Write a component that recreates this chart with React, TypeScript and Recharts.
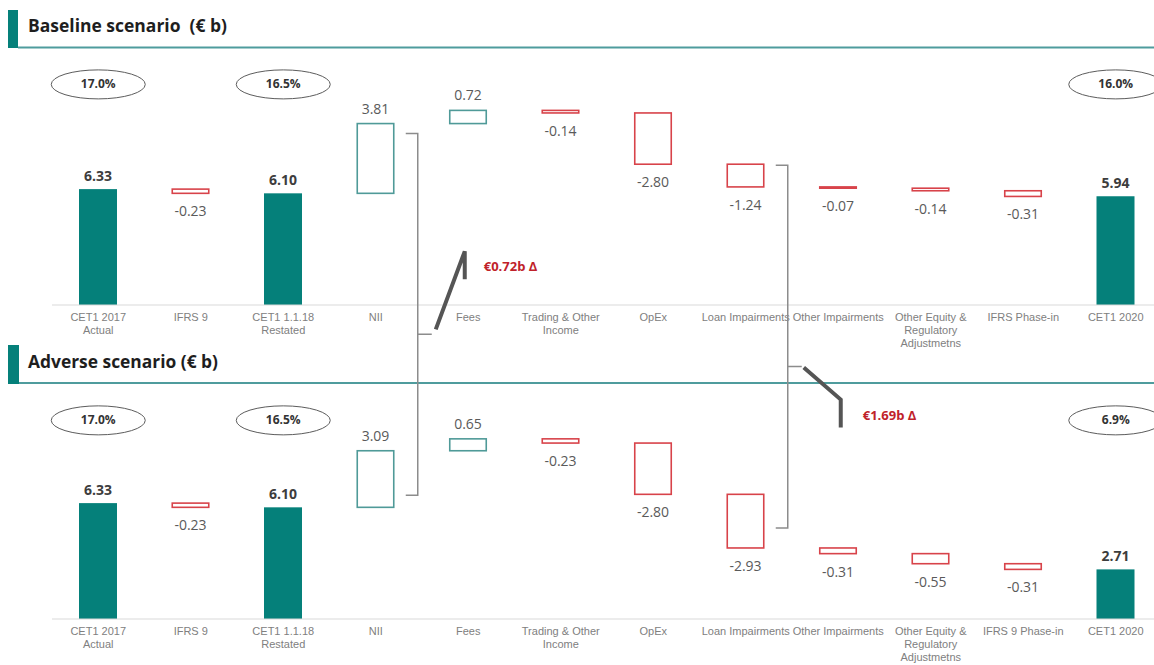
import React from "react";
import { BarChart, Bar, XAxis, YAxis, ReferenceDot } from "recharts";

const baselineTicks = [
  "CET1 2017\nActual",
  "IFRS 9",
  "CET1 1.1.18\nRestated",
  "NII",
  "Fees",
  "Trading & Other\nIncome",
  "OpEx",
  "Loan Impairments",
  "Other Impairments",
  "Other Equity &\nRegulatory\nAdjustmetns",
  "IFRS Phase-in",
  "CET1 2020",
];
const adverseTicks = [
  "CET1 2017\nActual",
  "IFRS 9",
  "CET1 1.1.18\nRestated",
  "NII",
  "Fees",
  "Trading & Other\nIncome",
  "OpEx",
  "Loan Impairments",
  "Other Impairments",
  "Other Equity &\nRegulatory\nAdjustmetns",
  "IFRS 9 Phase-in",
  "CET1 2020",
];

// columns that are levels, the rest are changes
const totalIndex = [0, 2, 11];

const baselineValues = [6.33, -0.23, 6.1, 3.81, 0.72, -0.14, -2.8, -1.24, -0.07, -0.14, -0.31, 5.94];
const adverseValues = [6.33, -0.23, 6.1, 3.09, 0.65, -0.23, -2.8, -2.93, -0.31, -0.55, -0.31, 2.71];

const baselineRatios = ["17.0%", "16.5%", "16.0%"];
const adverseRatios = ["17.0%", "16.5%", "6.9%"];

const deltaLabels = ["€0.72b Δ", "€1.69b Δ"];
const deltaIndex = [3, 7];

const TEAL = "#05807a";
const UP = "#4f9a98";
const DOWN = "#d8434a";
const NUM_FONT = "'Open Sans', 'Noto Sans', sans-serif";
const AXIS_FONT = "'Liberation Sans', Arial, sans-serif";

const Y_MAX = 13;
const PLOT_H = 238;
const PX = PLOT_H / Y_MAX;
const PLOT_LEFT = 52;
const CHART_W = 1154;
const BAND = (CHART_W - (PLOT_LEFT - 8)) / 12;

const TOP1 = 50;
const MT1 = 17;
const TOP2 = 378;
const MT2 = 3;
const BASE1 = TOP1 + MT1 + PLOT_H;
const BASE2 = TOP2 + MT2 + PLOT_H;

type Row = { name: string; base: number; size: number; value: number; total: boolean };

function buildRows(ticks: string[], values: number[]): Row[] {
  let run = 0;
  return ticks.map((name, i) => {
    const v = values[i];
    if (totalIndex.includes(i)) {
      run = v;
      return { name, base: 0, size: v, value: v, total: true };
    }
    const next = run + v;
    const row = { name, base: Math.min(run, next), size: Math.abs(v), value: v, total: false };
    run = next;
    return row;
  });
}

const baselineRows = buildRows(baselineTicks, baselineValues);
const adverseRows = buildRows(adverseTicks, adverseValues);

const WaterfallShape = (props: any) => {
  const { x, y, width, height, index } = props;
  const row: Row = props.payload && props.payload.name ? props.payload : props.rows?.[index];
  const label = row.value.toFixed(2);
  const cx = x + width / 2;
  if (row.total) {
    return (
      <g>
        <rect x={x} y={y} width={width} height={height} fill={TEAL} />
        <text x={cx} y={y - 8} textAnchor="middle" fontFamily={NUM_FONT} fontSize={14} fontWeight={700} fill="#3d3d3d">
          {label}
        </text>
      </g>
    );
  }
  const up = row.value > 0;
  return (
    <g>
      <rect
        x={x + 0.75}
        y={y}
        width={width - 1.5}
        height={Math.max(height, 0.6)}
        fill="#fff"
        stroke={up ? UP : DOWN}
        strokeWidth={1.6}
      />
      <text
        x={cx}
        y={up ? y - 10 : y + height + 23}
        textAnchor="middle"
        fontFamily={NUM_FONT}
        fontSize={14}
        fill="#5a5a5a"
      >
        {label}
      </text>
    </g>
  );
};

const CategoryTick = (props: any) => {
  const { x, y, payload } = props;
  const lines = String(payload.value).split("\n");
  return (
    <text x={x} y={y + 16} textAnchor="middle" fontFamily={AXIS_FONT} fontSize={11} fill="#808080">
      {lines.map((l, i) => (
        <tspan key={i} x={x} dy={i === 0 ? 0 : 13}>
          {l}
        </tspan>
      ))}
    </text>
  );
};

const RatioBadge = ({ cx, cy, text }: { cx: number; cy: number; text: string }) => (
  <g>
    <ellipse cx={cx} cy={cy} rx={47} ry={14.5} fill="#fff" stroke="#5c5c5c" strokeWidth={1} />
    <text x={cx} y={cy + 4} textAnchor="middle" fontFamily={NUM_FONT} fontSize={12} fontWeight={700} fill="#333">
      {text}
    </text>
  </g>
);

function Waterfall({
  rows,
  ratios,
  ratioY,
  top,
  marginTop,
  axisHeight,
}: {
  rows: Row[];
  ratios: string[];
  ratioY: number;
  top: number;
  marginTop: number;
  axisHeight: number;
}) {
  const totals = rows.filter((r) => r.total);
  return (
    <div style={{ position: "absolute", left: 8, top }}>
      <BarChart
        width={CHART_W}
        height={marginTop + PLOT_H + axisHeight}
        data={rows}
        margin={{ top: marginTop, right: 0, bottom: 0, left: PLOT_LEFT - 8 }}
        barSize={38}
      >
        <XAxis
          dataKey="name"
          interval={0}
          tickLine={false}
          tickSize={0}
          tickMargin={0}
          height={axisHeight}
          axisLine={{ stroke: "#d9d9d9" }}
          tick={<CategoryTick />}
        />
        <YAxis hide domain={[0, Y_MAX]} allowDataOverflow />
        <Bar dataKey="base" stackId="w" fill="none" isAnimationActive={false} />
        <Bar
          dataKey="size"
          stackId="w"
          isAnimationActive={false}
          shape={(p: any) => <WaterfallShape {...p} rows={rows} />}
        />
        {totals.map((r, i) => (
          <ReferenceDot
            key={r.name}
            x={r.name}
            y={ratioY}
            r={0}
            ifOverflow="visible"
            shape={(p: any) => <RatioBadge cx={p.cx} cy={p.cy} text={ratios[i]} />}
          />
        ))}
      </BarChart>
    </div>
  );
}

const bandCenter = (i: number) => PLOT_LEFT + BAND * (i + 0.5);
const yAt = (base: number, v: number) => base - v * PX;

function Overlay() {
  const b = baselineRows;
  const a = adverseRows;
  const specs = [
    {
      idx: deltaIndex[0],
      topY: yAt(BASE1, b[deltaIndex[0]].base + b[deltaIndex[0]].size) + 10,
      botY: yAt(BASE2, a[deltaIndex[0]].base) - 12,
      up: true,
      label: deltaLabels[0],
    },
    {
      idx: deltaIndex[1],
      topY: yAt(BASE1, b[deltaIndex[1]].base + b[deltaIndex[1]].size) + 1,
      botY: yAt(BASE2, a[deltaIndex[1]].base) - 20,
      up: false,
      label: deltaLabels[1],
    },
  ];
  return (
    <svg
      width={1154}
      height={665}
      style={{ position: "absolute", left: 0, top: 0, pointerEvents: "none" }}
    >
      <rect x={8} y={10} width={10} height={38} fill={TEAL} />
      <line x1={18} x2={1154} y1={47.5} y2={47.5} stroke="#4f9c9d" strokeWidth={2} />
      <text
        x={28}
        y={32}
        fontFamily={NUM_FONT}
        fontSize={18}
        fontWeight={700}
        fill="#1e1e1e"
        textLength={199}
        lengthAdjust="spacingAndGlyphs"
        style={{ whiteSpace: "pre" }}
      >
        {"Baseline scenario  (€ b)"}
      </text>

      <rect x={8} y={345} width={11} height={39} fill={TEAL} />
      <line x1={19} x2={1154} y1={383} y2={383} stroke="#4f9c9d" strokeWidth={2} />
      <text
        x={28}
        y={368}
        fontFamily={NUM_FONT}
        fontSize={18}
        fontWeight={700}
        fill="#1e1e1e"
        textLength={190}
        lengthAdjust="spacingAndGlyphs"
      >
        Adverse scenario (€ b)
      </text>

      {specs.map((s) => {
        const bx = bandCenter(s.idx) + 42;
        const mid = s.topY + 0.555 * (s.botY - s.topY);
        const pts = s.up
          ? [
              [bx + 18, mid - 5],
              [bx + 47, mid - 83],
              [bx + 47, mid - 55],
            ]
          : [
              [bx + 16, mid + 1],
              [bx + 53, mid + 33],
              [bx + 53, mid + 61],
            ];
        const lx = s.up ? bx + 66 : bx + 75;
        const ly = s.up ? mid - 63 : mid + 53;
        return (
          <g key={s.label}>
            <path
              d={`M${bx - 12},${s.topY} H${bx} V${s.botY} H${bx - 12} M${bx},${mid} H${bx + 14}`}
              fill="none"
              stroke="#8c8c8c"
              strokeWidth={1.5}
            />
            <polyline
              points={pts.map((p) => p.join(",")).join(" ")}
              fill="none"
              stroke="#555"
              strokeWidth={4}
            />
            <text x={lx} y={ly} fontFamily={NUM_FONT} fontSize={13} fontWeight={700} fill="#c0222a">
              {s.label}
            </text>
          </g>
        );
      })}
    </svg>
  );
}

export default function App() {
  return (
    <div
      style={{
        position: "absolute",
        left: 0,
        top: 0,
        width: 1154,
        height: 665,
        overflow: "hidden",
        background: "#fff",
      }}
    >
      <Waterfall rows={baselineRows} ratios={baselineRatios} ratioY={12.05} top={TOP1} marginTop={MT1} axisHeight={50} />
      <Waterfall rows={adverseRows} ratios={adverseRatios} ratioY={10.85} top={TOP2} marginTop={MT2} axisHeight={47} />
      <Overlay />
    </div>
  );
}
